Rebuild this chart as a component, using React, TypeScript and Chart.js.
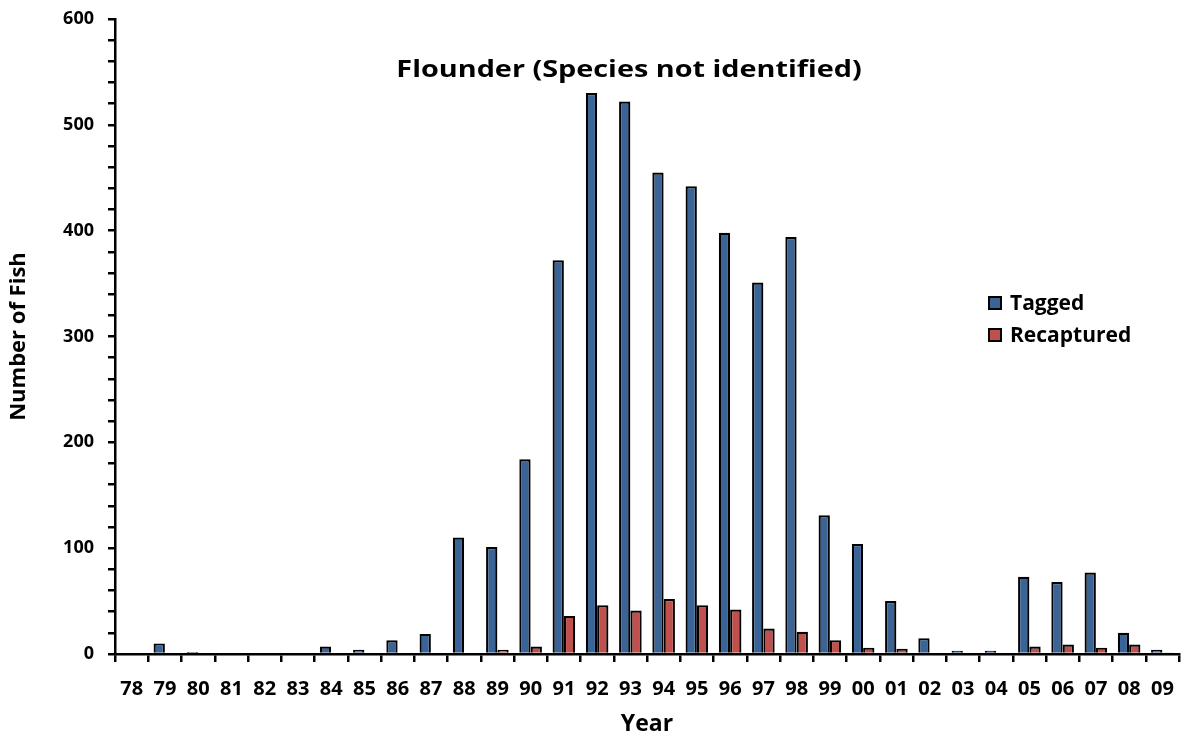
import React, { useEffect, useRef } from "react";
import { Chart, registerables } from "chart.js";

Chart.register(...registerables);

const years = ["78","79","80","81","82","83","84","85","86","87","88","89","90","91","92","93","94","95","96","97","98","99","00","01","02","03","04","05","06","07","08","09"];
const tagged = [0,10,2,0,0,0,7,4,13,19,110,101,184,372,530,522,455,442,398,351,394,131,104,50,15,3,3,73,68,77,20,4];
const recaptured = [0,0,0,0,0,0,0,0,0,0,0,4,7,36,46,41,52,46,42,24,21,13,6,5,0,0,0,7,9,6,9,1];
const yTicks = [0,100,200,300,400,500,600];

const FONT = "'Open Sans', 'DejaVu Sans', sans-serif";
const BLUE = "#3A6496";
const RED = "#C0504D";

const overlay = {
  id: "overlay",
  afterDraw(chart: any) {
    const ctx = chart.ctx;
    ctx.save();
    ctx.fillStyle = "#000";
    ctx.font = `bold 24px ${FONT}`;
    ctx.textAlign = "center";
    ctx.textBaseline = "middle";
    ctx.save();
    ctx.translate(629, 70);
    ctx.scale(1.2, 1);
    ctx.fillText("Flounder (Species not identified)", 0, 0);
    ctx.restore();
    const items = [
      { label: chart.data.datasets[0].label, color: BLUE, y: 303 },
      { label: chart.data.datasets[1].label, color: RED, y: 335 },
    ];
    ctx.font = `bold 21px ${FONT}`;
    ctx.textAlign = "left";
    items.forEach((it) => {
      ctx.fillStyle = it.color;
      ctx.fillRect(989, it.y - 6, 12, 12);
      ctx.lineWidth = 2;
      ctx.strokeStyle = "#000";
      ctx.strokeRect(989, it.y - 6, 12, 12);
      ctx.fillStyle = "#000";
      ctx.fillText(it.label, 1010, it.y + 1);
    });
    ctx.restore();
  },
};

export default function App() {
  const ref = useRef<HTMLCanvasElement>(null);
  useEffect(() => {
    document.body.style.margin = "0";
    const chart = new Chart(ref.current!, {
      type: "bar",
      data: {
        labels: years,
        datasets: [
          { label: "Tagged", data: tagged, backgroundColor: BLUE, borderColor: "#000", borderWidth: 2.2, categoryPercentage: 0.68, barPercentage: 1 },
          { label: "Recaptured", data: recaptured, backgroundColor: RED, borderColor: "#000", borderWidth: 2.2, categoryPercentage: 0.68, barPercentage: 1 },
        ],
      },
      options: {
        animation: false,
        responsive: false,
        layout: { padding: { top: 19, right: 8, left: 0, bottom: 0 } },
        plugins: { legend: { display: false }, title: { display: false }, tooltip: { enabled: false } },
        scales: {
          x: {
            offset: true,
            grid: { display: true, drawOnChartArea: false, offset: true, color: "#000", lineWidth: 2.5, tickLength: 8 },
            border: { display: true, color: "#000", width: 2.5 },
            ticks: { color: "#000", font: { family: FONT, weight: "bold", size: 20 }, padding: 15, maxRotation: 0, autoSkip: false },
            title: { display: true, text: "Year", color: "#000", font: { family: FONT, weight: "bold", size: 23 }, padding: { top: 0, bottom: 0 } },
            afterFit: (s: any) => { s.height = 738 - 654; s.paddingLeft = 0; s.paddingRight = 0; },
          },
          y: {
            min: 0,
            max: 600,
            grid: { display: true, drawOnChartArea: false, color: "#000", lineWidth: 2.5, tickLength: 7 },
            border: { display: true, color: "#000", width: 2.5 },
            ticks: {
              stepSize: 20,
              autoSkip: false,
              color: "#000",
              padding: 14,
              font: { family: FONT, weight: "bold", size: 18 },
              callback: (v: any) => (yTicks.includes(Number(v)) ? String(v) : ""),
            },
            title: { display: true, text: "Number of Fish", color: "#000", font: { family: FONT, weight: "bold", size: 22 }, padding: { top: 6, bottom: 4 } },
            afterFit: (s: any) => { s.width = 115; s.paddingTop = 0; s.paddingBottom = 0; },
          },
        },
      },
      plugins: [overlay],
    });
    return () => chart.destroy();
  }, []);
  return <canvas ref={ref} width={1187} height={738} style={{ display: "block" }} />;
}
